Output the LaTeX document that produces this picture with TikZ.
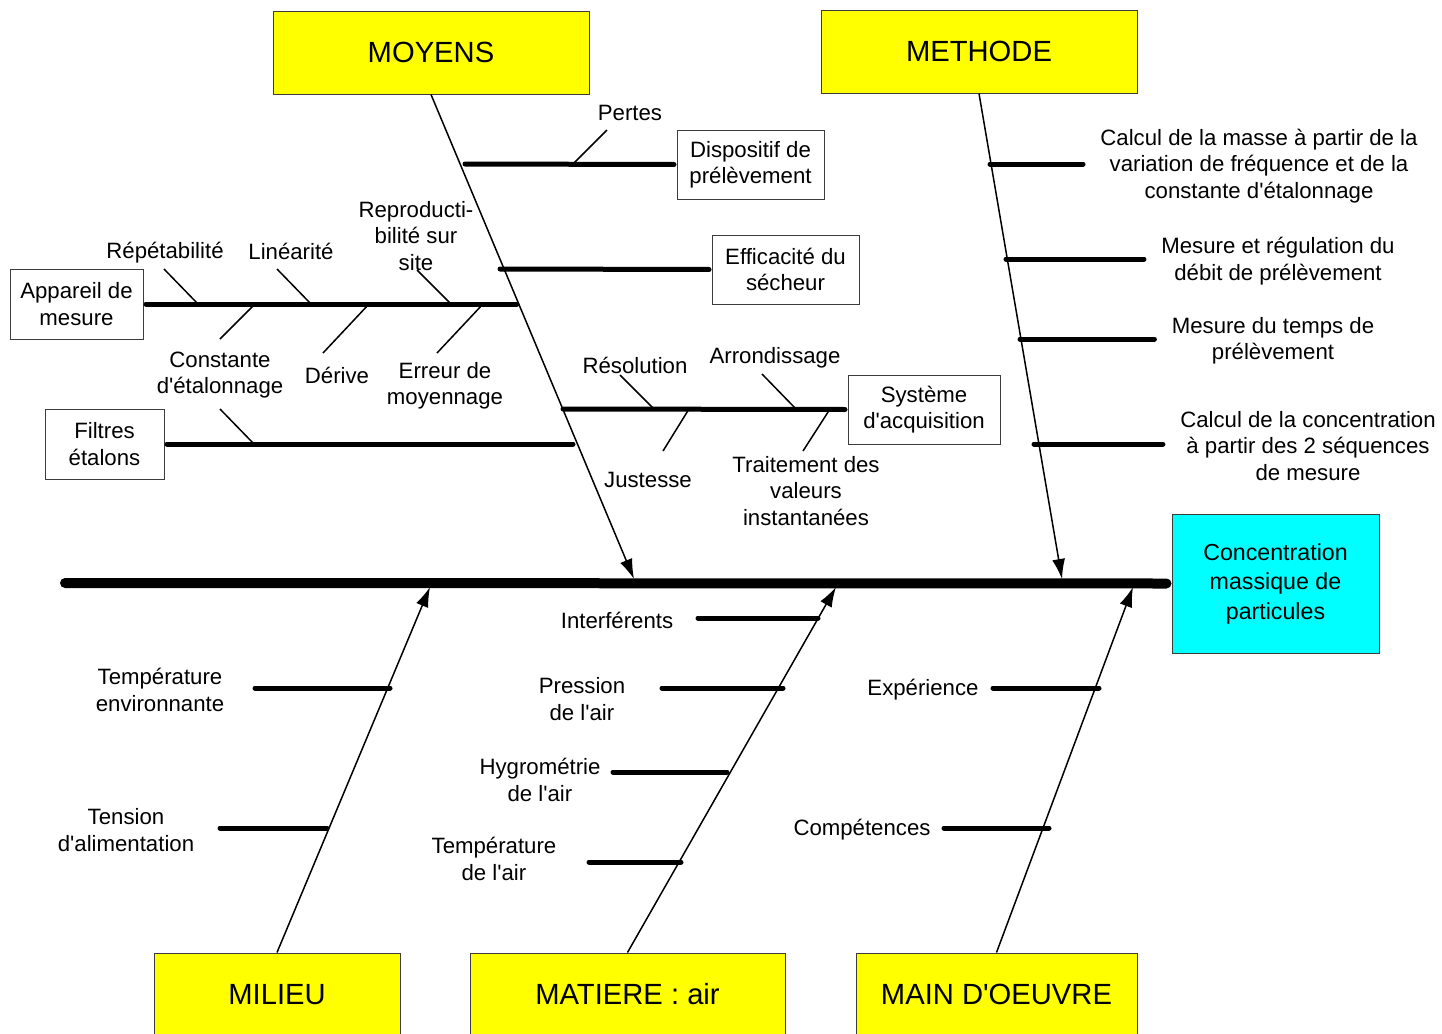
\documentclass[tikz,border=0pt]{standalone}
\usepackage{fontspec}
\setmainfont{Liberation Sans}[Ligatures=TeXOff]
\usetikzlibrary{arrows.meta,positioning}
\definecolor{causeyellow}{RGB}{255,255,0}
\definecolor{effectcyan}{RGB}{0,255,255}
\definecolor{framegray}{RGB}{60,60,60}
\tikzset{
  causebox/.style={draw=framegray, fill=causeyellow, line width=0.5pt, inner sep=0pt,
    minimum width=#1, minimum height=41.5pt, font=\fontsize{14.6}{17}\selectfont},
  causebox/.default=158pt,
  itembox/.style={draw=framegray, fill=white, line width=0.5pt, align=center, inner sep=0pt,
    font=\fontsize{11.1}{13.2}\selectfont},
  lbl/.style={align=center, inner sep=0pt, yshift=-1pt, font=\fontsize{11.1}{13.2}\selectfont},
  spine/.style={line width=5pt, line cap=round},
  bone/.style={line width=0.75pt, -{Latex[length=10pt, width=6.5pt]}},
  branch/.style={line width=2.5pt, line cap=round},
  tick/.style={line width=0.75pt}
}

\begin{document}
\begin{tikzpicture}[x=0.5pt, y=-0.5pt]
  \useasboundingbox (0,0) rectangle (1442,1034);
  % categories and effect
  \node[causebox] (moyens) at (431,52.5) {MOYENS};
  \node[causebox] (methode) at (979,51.5) {METHODE};
  \node[causebox=123pt] (milieu) at (277,994.5) {MILIEU};
  \node[causebox=157.5pt] (matiere) at (627.5,994.5) {MATIERE : air};
  \node[causebox=140.5pt] (mainoeuvre) at (996.5,994.5) {MAIN D'OEUVRE};
  \node[itembox, fill=effectcyan, minimum width=103.5pt, minimum height=69.5pt,
    font=\fontsize{11.6}{14.75}\selectfont] (effet) at (1275.5,583.5) {Concentration\\massique de\\particules};
  % boxed sub-causes
  \node[itembox, minimum width=73.5pt, minimum height=34.5pt] (dispositif) at (750.5,164.5) {Dispositif de\\prélèvement};
  \node[itembox, minimum width=73.5pt, minimum height=34.5pt] (efficacite) at (785.5,269.5) {Efficacité du\\sécheur};
  \node[itembox, minimum width=66.5pt, minimum height=35pt] (appareil) at (76.5,304) {Appareil de\\mesure};
  \node[itembox, minimum width=59.5pt, minimum height=35pt] (filtres) at (104.5,444) {Filtres\\étalons};
  \node[itembox, minimum width=76pt, minimum height=34.5pt] (systeme) at (924,409.5) {Système\\d'acquisition};

  % labels
  \node[lbl] (pertes) at (630,111) {Pertes};
  \node[lbl] (repet) at (165,251) {Répétabilité};
  \node[lbl] (linea) at (291,249) {Linéarité};
  \node[lbl] (reprod) at (416,234) {Reproducti-\\bilité sur\\site};
  \node[lbl] (constante) at (220,373) {Constante\\d'étalonnage};
  \node[lbl] (derive) at (337,373) {Dérive};
  \node[lbl] (erreur) at (445,384) {Erreur de\\moyennage};
  \node[lbl] (resol) at (635,363) {Résolution};
  \node[lbl] (arrond) at (775,356) {Arrondissage};
  \node[lbl] (justesse) at (648,478) {Justesse};
  \node[lbl] (traitement) at (806,489) {Traitement des\\valeurs\\instantanées};
  \node[lbl] (calcmasse) at (1259,164) {Calcul de la masse à partir de la\\variation de fréquence et de la\\constante d'étalonnage};
  \node[lbl] (debit) at (1278,259) {Mesure et régulation du\\débit de prélèvement};
  \node[lbl] (temps) at (1273,339) {Mesure du temps de\\prélèvement};
  \node[lbl] (calcconc) at (1308,444) {Calcul de la concentration\\à partir des 2 séquences\\de mesure};
  \node[lbl] (tempenv) at (160,688) {Température\\environnante};
  \node[lbl] (tension) at (126,828) {Tension\\d'alimentation};
  \node[lbl] (interf) at (617,618) {Interférents};
  \node[lbl] (pression) at (582,697) {Pression\\de l'air};
  \node[lbl] (hygro) at (540,778) {Hygrométrie\\de l'air};
  \node[lbl] (tempair) at (494,857) {Température\\de l'air};
  \node[lbl] (experience) at (923,688) {Expérience};
  \node[lbl] (competences) at (862,828) {Compétences};

  % spine and bones
  \coordinate (queue) at (65,583);
  \coordinate (tipmoy) at (634,579);
  \coordinate (tipmeth) at (1062,579);
  \coordinate (tipmil) at (430,587);
  \coordinate (tipmat) at (836,587);
  \coordinate (tipmain) at (1133,587);
  \draw[spine, shorten >=2.5pt] (queue) -- (effet.west);
  \draw[bone] (moyens.south) -- (tipmoy);
  \draw[bone] (methode.south) -- (tipmeth);
  \draw[bone] (milieu.north) -- (tipmil);
  \draw[bone] (matiere.north) -- (tipmat);
  \draw[bone] (mainoeuvre.north) -- (tipmain);

  % MOYENS branches
  \coordinate (mb1) at (465,164);
  \coordinate (mb2) at (500,269);
  \coordinate (mb3) at (517,304);
  \coordinate (mb4) at (563,409);
  \coordinate (mb5) at (573,444);
  \draw[branch, shorten >=1.25pt] (mb1) -- (dispositif.west);
  \draw[branch, shorten >=1.25pt] (mb2) -- (efficacite.west);
  \draw[branch, shorten <=1.25pt] (appareil.east) -- (mb3);
  \draw[branch, shorten >=1.25pt] (mb4) -- (systeme.west);
  \draw[branch, shorten <=1.25pt] (filtres.east) -- (mb5);

  % small causes
  \coordinate (k1a) at (607,130);  \coordinate (k1b) at (573,164);
  \coordinate (k2a) at (164,269);  \coordinate (k2b) at (198,304);
  \coordinate (k3a) at (277,269);  \coordinate (k3b) at (311,304);
  \coordinate (k4a) at (417,270);  \coordinate (k4b) at (451,304);
  \coordinate (k5a) at (255,304);  \coordinate (k5b) at (220,339);
  \coordinate (k6a) at (369,304);  \coordinate (k6b) at (323,353);
  \coordinate (k7a) at (483,304);  \coordinate (k7b) at (437,353);
  \coordinate (k8a) at (220,409);  \coordinate (k8b) at (254,444);
  \coordinate (k9a) at (620,375);  \coordinate (k9b) at (654,409);
  \coordinate (k10a) at (762,374); \coordinate (k10b) at (796,409);
  \coordinate (k11a) at (689,409); \coordinate (k11b) at (663,451);
  \coordinate (k12a) at (830,409); \coordinate (k12b) at (803,451);
  \draw[tick] (k1a) -- (k1b);
  \draw[tick] (k2a) -- (k2b);
  \draw[tick] (k3a) -- (k3b);
  \draw[tick] (k4a) -- (k4b);
  \draw[tick] (k5a) -- (k5b);
  \draw[tick] (k6a) -- (k6b);
  \draw[tick] (k7a) -- (k7b);
  \draw[tick] (k8a) -- (k8b);
  \draw[tick] (k9a) -- (k9b);
  \draw[tick] (k10a) -- (k10b);
  \draw[tick] (k11a) -- (k11b);
  \draw[tick] (k12a) -- (k12b);

  % METHODE branches
  \coordinate (eb1) at (990,164);
  \coordinate (eb2) at (1006,259);
  \coordinate (eb3) at (1020,339);
  \coordinate (eb4) at (1034,444);
  \draw[branch, shorten >=8.5pt] (eb1) -- (calcmasse.west |- eb1);
  \draw[branch, shorten >=8.5pt] (eb2) -- (debit.west |- eb2);
  \draw[branch, shorten >=8.5pt] (eb3) -- (temps.west |- eb3);
  \draw[branch, shorten >=8.5pt] (eb4) -- (calcconc.west |- eb4);

  % MILIEU, MATIERE and MAIN D'OEUVRE branches
  \coordinate (lb1a) at (255,688);  \coordinate (lb1b) at (390,688);
  \coordinate (lb2a) at (220,828);  \coordinate (lb2b) at (327,828);
  \coordinate (ab1a) at (698,618);  \coordinate (ab1b) at (818,618);
  \coordinate (ab2a) at (662,688);  \coordinate (ab2b) at (783,688);
  \coordinate (ab3a) at (613,772);  \coordinate (ab3b) at (727,772);
  \coordinate (ab4a) at (589,862);  \coordinate (ab4b) at (681,862);
  \coordinate (ob1a) at (993,688);  \coordinate (ob1b) at (1099,688);
  \coordinate (ob2a) at (944,828);  \coordinate (ob2b) at (1049,828);
  \draw[branch] (lb1a) -- (lb1b);
  \draw[branch] (lb2a) -- (lb2b);
  \draw[branch] (ab1a) -- (ab1b);
  \draw[branch] (ab2a) -- (ab2b);
  \draw[branch] (ab3a) -- (ab3b);
  \draw[branch] (ab4a) -- (ab4b);
  \draw[branch] (ob1a) -- (ob1b);
  \draw[branch] (ob2a) -- (ob2b);
\end{tikzpicture}
\end{document}
